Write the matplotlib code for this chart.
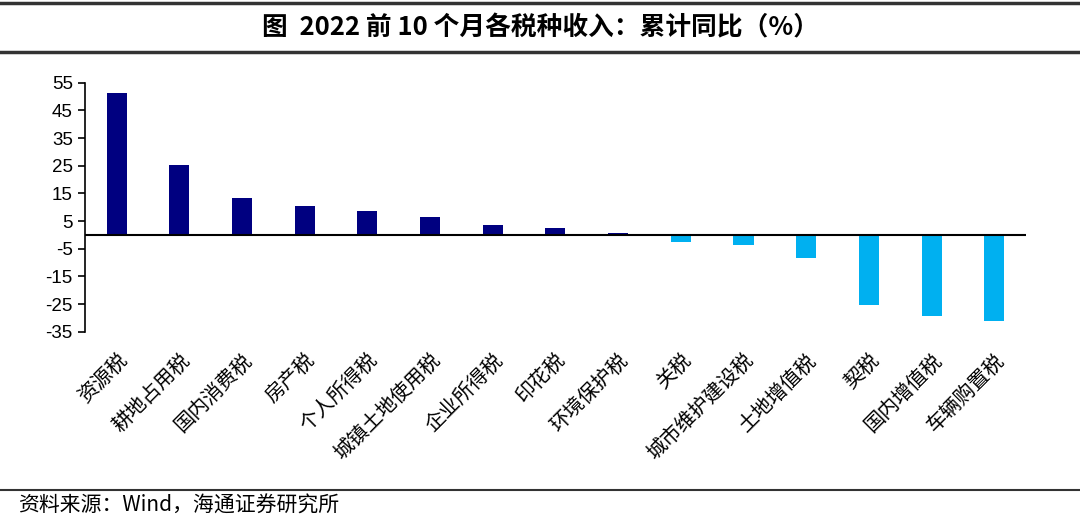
import numpy as np
import matplotlib.pyplot as plt
from matplotlib.lines import Line2D

plt.rcParams['font.family'] = ['Noto Sans CJK SC', 'DejaVu Sans']

# Dados
categorias = ["资源税", "耕地占用税", "国内消费税", "房产税", "个人所得税",
              "城镇土地使用税", "企业所得税", "印花税", "环境保护税", "关税",
              "城市维护建设税", "土地增值税", "契税", "国内增值税", "车辆购置税"]
valores = [51.2, 25.2, 13.3, 10.6, 8.6, 6.5, 3.6, 2.6, 0.6,
           -2.5, -3.6, -8.2, -25.5, -29.4, -31.3]
yticks = [55, 45, 35, 25, 15, 5, -5, -15, -25, -35]

cor_pos = "#000080"
cor_neg = "#00B0F0"

fig = plt.figure(figsize=(10.8, 5.21), dpi=100)
ax = fig.add_axes([0.079, 0.3633, 0.8706, 0.478])

x = np.arange(len(categorias))
cores = [cor_pos if v >= 0 else cor_neg for v in valores]
ax.bar(x, valores, width=0.32, color=cores, zorder=2)

ax.set_xlim(-0.5, len(categorias) - 0.5)
ax.set_ylim(-35, 55)
ax.set_yticks(yticks)
ax.set_yticklabels([str(t) for t in yticks], family=['Liberation Sans', 'DejaVu Sans'], fontsize=13.5)
ax.axhline(0, color="black", lw=1.5, zorder=3)

for s in ["top", "right", "bottom"]:
    ax.spines[s].set_visible(False)
ax.spines["left"].set_linewidth(1.2)
ax.tick_params(axis="y", direction="out", length=5, width=1.2, pad=4)
ax.tick_params(axis="x", length=0, pad=13)
ax.set_xticks(x)
ax.set_xticklabels(categorias, rotation=45, ha="right", rotation_mode="anchor", fontsize=14.5)

# Título e linhas
fig.add_artist(Line2D([0, 1], [0.994, 0.994], color="#333333", lw=2.5, transform=fig.transFigure))
fig.add_artist(Line2D([0, 1], [0.900, 0.900], color="#333333", lw=2.5, transform=fig.transFigure))
fig.text(0.5, 0.947, "图  2022 前 10 个月各税种收入：累计同比（%）", ha="center", va="center",
         fontsize=18.5, fontweight="bold")

# Rodapé
fig.add_artist(Line2D([0, 1], [0.060, 0.060], color="#333333", lw=1.5, transform=fig.transFigure))
fig.text(0.017, 0.030, "资料来源：Wind，海通证券研究所", ha="left", va="center", fontsize=15)

fig.savefig("out.png", dpi=100)
